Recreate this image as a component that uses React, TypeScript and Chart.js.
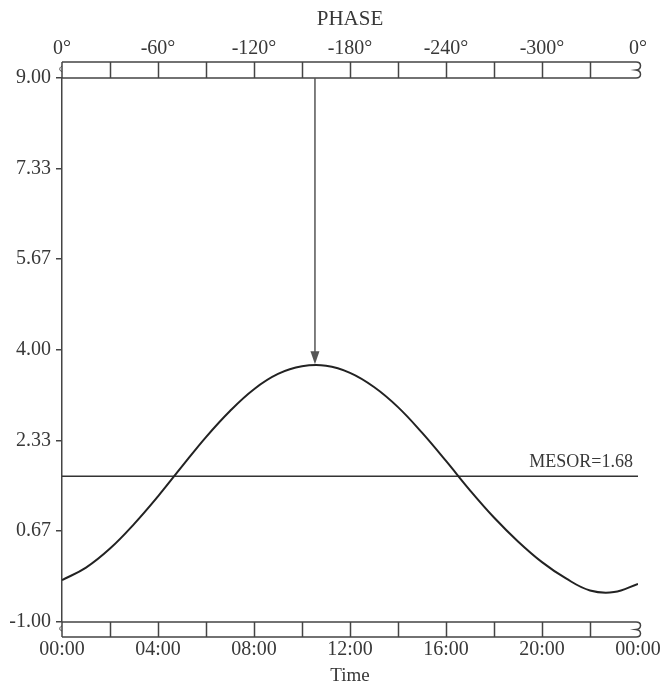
import { useEffect, useRef } from "react";
import { Chart, registerables } from "chart.js";

Chart.register(...registerables);

// ---- data ----
const hours = [0, 1, 2, 3, 4, 5, 6, 7, 8, 9, 10, 11, 12, 13, 14, 15, 16, 17, 18, 19, 20, 21, 22, 23, 24];
const values = [-0.23, 0.0, 0.35, 0.8, 1.31, 1.86, 2.4, 2.88, 3.28, 3.56, 3.7, 3.71, 3.58, 3.32, 2.95, 2.48, 1.96, 1.42, 0.92, 0.48, 0.1, -0.2, -0.42, -0.45, -0.3];
const mesor = 1.68;
const acrophaseHours = 10.54;
const peakValue = 3.72;
const timeTicks = [0, 4, 8, 12, 16, 20, 24];
const timeLabels = ["00:00", "04:00", "08:00", "12:00", "16:00", "20:00", "00:00"];
const phaseLabels = ["0°", "-60°", "-120°", "-180°", "-240°", "-300°", "0°"];
const yTicks = [-1, 0.67, 2.33, 4, 5.67, 7.33, 9];
const stripDividers = [2, 4, 6, 8, 10, 12, 14, 16, 18, 20, 22];

const FONT = '"Liberation Serif", "Times New Roman", serif';
const TEXT = "#383838";
const LINE = "#444";

const decorPlugin = {
  id: "decor",
  afterDraw(chart: any) {
    const ctx = chart.ctx;
    const a = chart.chartArea;
    const xs = chart.scales.x;
    const ys = chart.scales.y;
    ctx.save();
    ctx.strokeStyle = LINE;
    ctx.lineWidth = 1.5;

    const strip = (top: number, bottom: number) => {
      ctx.beginPath();
      ctx.moveTo(a.left, top);
      ctx.lineTo(a.right - 2, top);
      ctx.moveTo(a.left, bottom);
      ctx.lineTo(a.right - 2, bottom);
      stripDividers.forEach((d) => {
        const px = Math.round(xs.getPixelForValue(d)) + 0.5;
        ctx.moveTo(px, top);
        ctx.lineTo(px, bottom);
      });
      ctx.moveTo(a.left, top);
      ctx.lineTo(a.left, bottom);
      ctx.stroke();
      const h = bottom - top;
      // small left break mark
      ctx.lineWidth = 1;
      ctx.beginPath();
      ctx.moveTo(a.left, top + h * 0.25);
      ctx.bezierCurveTo(a.left - 3, top + h * 0.35, a.left - 3, top + h * 0.55, a.left, top + h * 0.6);
      ctx.stroke();
      // right break squiggle
      ctx.lineWidth = 1.5;
      const r = a.right - 2;
      ctx.beginPath();
      ctx.moveTo(r, top);
      ctx.bezierCurveTo(r + 6, top, r + 6, top + h * 0.45, r, top + h * 0.5);
      ctx.bezierCurveTo(r + 6, top + h * 0.55, r + 6, bottom, r, bottom);
      ctx.stroke();
    };
    strip(a.top - 16, a.top);
    strip(a.bottom, a.bottom + 15);

    // arrow to acrophase
    const ax = xs.getPixelForValue(acrophaseHours);
    const tipY = ys.getPixelForValue(peakValue) - 1;
    ctx.strokeStyle = "#555";
    ctx.fillStyle = "#555";
    ctx.lineWidth = 1.5;
    ctx.beginPath();
    ctx.moveTo(ax, a.top);
    ctx.lineTo(ax, tipY - 10);
    ctx.stroke();
    ctx.beginPath();
    ctx.moveTo(ax, tipY);
    ctx.lineTo(ax - 4.5, tipY - 13);
    ctx.lineTo(ax + 4.5, tipY - 13);
    ctx.closePath();
    ctx.fill();

    // MESOR label
    ctx.fillStyle = TEXT;
    ctx.font = "18px " + FONT;
    ctx.textAlign = "right";
    ctx.textBaseline = "alphabetic";
    ctx.fillText("MESOR=" + mesor.toFixed(2), a.right - 5, ys.getPixelForValue(mesor) - 9);
    ctx.restore();
  },
};

export default function App() {
  const ref = useRef<HTMLCanvasElement | null>(null);

  useEffect(() => {
    if (!ref.current) return;
    const chart = new Chart(ref.current, {
      type: "line",
      data: {
        datasets: [
          {
            data: hours.map((h, i) => ({ x: h, y: values[i] })),
            borderColor: "#222",
            borderWidth: 2,
            pointRadius: 0,
            tension: 0.4,
            xAxisID: "x",
            yAxisID: "y",
          },
          {
            data: [
              { x: 0, y: mesor },
              { x: 24, y: mesor },
            ],
            borderColor: "#333",
            borderWidth: 1.5,
            pointRadius: 0,
            xAxisID: "x",
            yAxisID: "y",
          },
        ],
      },
      options: {
        animation: false,
        responsive: false,
        maintainAspectRatio: false,
        layout: { padding: { left: 0, right: 22, top: 0, bottom: 0 } },
        plugins: { legend: { display: false }, tooltip: { enabled: false } },
        scales: {
          x: {
            type: "linear",
            position: "bottom",
            min: 0,
            max: 24,
            afterBuildTicks: (s: any) => {
              s.ticks = timeTicks.map((v) => ({ value: v }));
            },
            afterFit: (s: any) => {
              s.height = 65;
              s.paddingLeft = 0;
              s.paddingRight = 0;
            },
            ticks: {
              autoSkip: false,
              maxRotation: 0,
              padding: 16,
              color: TEXT,
              font: { family: FONT, size: 20 },
              callback: (_v: any, i: number) => timeLabels[i],
            },
            grid: { display: false, drawTicks: false },
            border: { display: false },
            title: {
              display: true,
              text: "Time",
              color: TEXT,
              font: { family: FONT, size: 19 },
              padding: { top: 0, bottom: 0 },
            },
          },
          x2: {
            type: "linear",
            position: "top",
            min: 0,
            max: 24,
            afterBuildTicks: (s: any) => {
              s.ticks = timeTicks.map((v) => ({ value: v }));
            },
            afterFit: (s: any) => {
              s.height = 78;
              s.paddingLeft = 0;
              s.paddingRight = 0;
            },
            ticks: {
              autoSkip: false,
              maxRotation: 0,
              padding: 17,
              color: TEXT,
              font: { family: FONT, size: 20 },
              callback: (_v: any, i: number) => phaseLabels[i],
            },
            grid: { display: false, drawTicks: false },
            border: { display: false },
            title: {
              display: true,
              text: "PHASE",
              color: TEXT,
              font: { family: FONT, size: 21 },
              padding: { top: 7, bottom: 0 },
            },
          },
          y: {
            type: "linear",
            min: -1,
            max: 9,
            afterBuildTicks: (s: any) => {
              s.ticks = yTicks.map((v) => ({ value: v }));
            },
            afterFit: (s: any) => {
              s.width = 62;
              s.paddingTop = 0;
              s.paddingBottom = 0;
            },
            ticks: {
              padding: 5,
              color: TEXT,
              font: { family: FONT, size: 20 },
              callback: (v: any) => Number(v).toFixed(2),
            },
            grid: { drawOnChartArea: false, tickLength: 6, color: LINE, lineWidth: 1.5 },
            border: { display: true, color: LINE, width: 1.5 },
          },
        },
      },
      plugins: [decorPlugin],
    } as any);
    return () => chart.destroy();
  }, []);

  return (
    <div style={{ position: "absolute", left: 0, top: 0, width: 660, height: 687, background: "#fff" }}>
      <canvas ref={ref} width={660} height={687} />
    </div>
  );
}
